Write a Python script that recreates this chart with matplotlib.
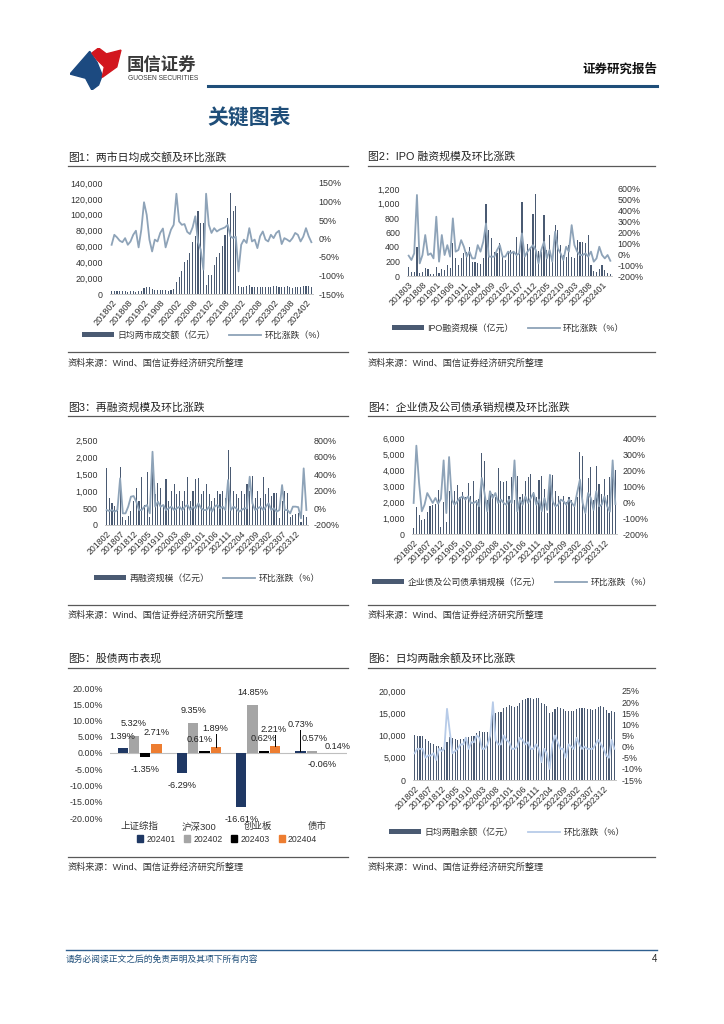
import numpy as np
import pandas as pd
import matplotlib
matplotlib.use('Agg')
import matplotlib.pyplot as plt
from matplotlib.lines import Line2D
from matplotlib.patches import Polygon, Patch

plt.rcParams['font.family'] = ['Liberation Sans', 'Noto Sans CJK SC']
plt.rcParams['axes.unicode_minus'] = False

# ---------------- data ----------------
months_a = [p.strftime('%Y%m') for p in pd.period_range('2018-02', '2024-04', freq='M')]  # 75
months_b = [p.strftime('%Y%m') for p in pd.period_range('2018-03', '2024-04', freq='M')]  # 74

# fig1: daily turnover (100m yuan) and MoM %
turnover = [4300, 3900, 4100, 4200, 3600, 3300, 3100, 3500, 3200, 3000, 3400, 3800,
            7500, 8800, 8200, 6000, 4800, 5200, 4600, 4800, 5000, 4300, 5600, 6800,
            15000, 22000, 29000, 40000, 43000, 52000, 66000, 73000, 105000, 89000, 89000, 11000,
            24000, 24000, 36000, 47000, 52000, 60000, 75000, 96000, 128000, 105000, 111000,
            9800, 9200, 8700, 9500, 10800, 9000, 8400, 8700, 9300, 8800, 8500, 8900,
            9200, 9800, 10000, 8500, 8300, 8800, 9500, 8700, 8000, 8300, 8200, 8700,
            9600, 10000, 9800, 9300]
turnover_chg = [-17, 10, 3, -6, -10, 1, -17, -8, 10, 21, -24, 24,
                98, 64, -3, -35, -3, -8, 15, 27, -24, 1, 24, 37,
                121, 46, 37, 39, 18, 12, 30, 60, -10, -30, -84, 121,
                37, 15, 28, 19, 24, 27, 30, 37, 6, 1, 5,
                -89, -17, -3, -12, 28, -8, -3, -26, 6, 19, -3, -8,
                10, 1, 15, 21, -15, 1, -3, -8, 1, 15, 10, -8,
                5, 28, 6, -10]

# fig2: IPO financing
ipo = [129, 50, 50, 405, 40, 50, 105, 100, 25, 25,
       129, 40, 100, 85, 150, 105, 450, 244, 150, 244,
       313, 336, 405, 198, 189, 175, 160, 250, 1000, 635,
       520, 336, 313, 450, 300, 221, 313, 359, 336, 543,
       310, 1020, 336, 437, 405, 860, 1130, 340, 336, 840,
       359, 566, 267, 700, 635, 428, 290, 267, 428, 267,
       250, 497, 474, 474, 450, 566, 150, 65, 60, 100,
       150, 85, 45, 25]
ipo_chg = [-13, -53, 8, 545, -84, -7, 177, -7, 8, -38,
           345, -68, 177, -7, 84, -22, 330, 24, 39, 130,
           69, -22, 24, -38, -38, 84, 24, 115, 283, -22,
           -22, -22, 39, 84, -22, -22, 24, 8, 24, -7,
           8, 192, -22, 24, 54, 84, 39, -84, 39, 115,
           -38, 39, -68, 207, 54, 8, -53, 69, 24, 268,
           84, 24, -7, -7, 8, -22, 24, -68, -38, 69,
           -7, -38, -7, -60]

# fig3: refinancing
refi = [1670, 800, 650, 560, 400, 1700, 250, 150, 270, 410, 700, 1100,
        700, 1420, 600, 1570, 250, 2150, 900, 1230, 1100, 600, 1350, 700,
        1000, 1200, 900, 1000, 700, 1000, 1400, 700, 1000, 1360, 1370, 900,
        1000, 1200, 900, 700, 800, 1000, 900, 1000, 800, 2220, 1700, 1000,
        900, 800, 1000, 900, 1200, 1000, 1450, 800, 1000, 800, 1400, 900,
        1100, 850, 950, 950, 200, 700, 1000, 950, 250, 300, 320, 350,
        100, 300, 230]
refi_chg = [-24, -35, -24, -43, -24, 349, -63, -63, 16, 133, 141, 74,
            -24, -24, 16, 35, -63, 662, 16, 74, 16, 35, -24, -4,
            16, -24, -4, 16, -24, 16, 35, -24, 16, -4, 55, -4,
            -24, -24, 16, -43, 16, 35, -4, 16, -24, 329, -24, 16,
            -4, -43, -24, -4, -4, 368, 55, -24, -4, 16, -24, 16,
            55, -24, -4, -43, -24, 270, -24, -24, -63, 16, 16, 10,
            -122, 466, -24]

# fig4: enterprise & corporate bond underwriting
bonds = [350, 1700, 1200, 850, 950, 1400, 1750, 1800, 1850, 2750, 450, 2000,
         750, 2700, 2300, 2700, 3050, 2300, 2600, 2300, 3200, 2400, 3300, 2100,
         2200, 5050, 4550, 2100, 2700, 2500, 2300, 4100, 3300, 3250, 3300, 2400,
         3550, 2100, 3600, 2300, 2500, 3300, 3550, 3750, 2600, 2300, 3400, 3650,
         2800, 1300, 3700, 3700, 2700, 2400, 2200, 2400, 2000, 2300, 2100, 1700,
         2300, 5150, 4850, 1500, 3500, 4200, 2100, 4250, 3100, 2500, 3450, 2450,
         3550, 4600, 4000]
bonds_chg = [-6, 352, 119, -58, -17, 56, 25, -6, 25, -10, 20, 260,
             -69, 281, 15, -17, 4, 25, 35, 15, 35, -6, -6, 4,
             -27, 150, 56, -58, 67, 25, 56, -6, 15, -6, -17, 15,
             -6, 260, -58, 15, -17, 35, -6, 25, 56, -17, 15, -58,
             25, -50, 170, 4, -27, -17, 15, 4, -17, 15, -6, -27,
             60, 140, -6, -69, 56, 25, -50, 67, -27, -17, 35, -27,
             -60, 260, -13]

# fig5: stock & bond market performance (%)
mkt_cats = ['上证综指', '沪深300', '创业板', '债市']
mkt_series = ['202401', '202402', '202403', '202404']
perf_202401 = [1.39, -6.29, -16.61, 0.73]
perf_202402 = [5.32, 9.35, 14.85, 0.57]
perf_202403 = [-1.35, 0.61, 0.62, -0.06]
perf_202404 = [2.71, 1.89, 2.21, 0.14]

# fig6: margin balance
margin = [10200, 10000, 9900, 9800, 9200, 8700, 8400, 8100, 7700, 7600, 7500,
          7400, 8500, 9700, 9400, 9200, 9100, 9200, 9300, 9700, 9600, 9800, 10000,
          10500, 10900, 10800, 10700, 10800, 11300, 14800, 15000, 15200, 15300, 16100, 16500,
          16800, 16700, 16500, 16600, 17300, 17900, 18100, 18500, 18400, 18300, 18500, 18400,
          17200, 17000, 16600, 15100, 15200, 15900, 16300, 16200, 16000, 15400, 15500, 15500,
          15400, 16000, 16200, 16100, 16100, 15900, 15900, 15800, 15900, 16500, 16700, 16500,
          15800, 15000, 15400, 15300]
margin_chg = [-3, -1, -1, -1, -5, -4, -4, -3, -6, -1, -2,
              -1, 17, 7, -3, -2, -1, 1, 1, 4, -1, 2, 2,
              5, 4, -1, -1, 1, 5, 20, 3, 1, 1, 5, 3,
              2, -1, -1, 0, 4, 3, 1, 2, -1, -1, 1, -1,
              -7, -1, -3, -10, 1, 5, 2, -1, -1, -5, 1, 0,
              -1, 4, 1, -1, 0, -1, -1, -1, 1, 3, 1, -1,
              -4, -5, 3, -1]

# ---------------- layout helpers ----------------
W, H = 724, 1024
fig = plt.figure(figsize=(W / 100, H / 100), dpi=100)

BAR = '#4a5a72'
LINE = '#8ea3b8'
LINE6 = '#b7cbe8'
TXT = '#333333'
RULE = '#595959'
SRC = '资料来源：Wind、国信证券经济研究所整理'


def px_ax(x0, y0, x1, y1):
    return fig.add_axes([x0 / W, 1 - y1 / H, (x1 - x0) / W, (y1 - y0) / H])


def ftext(x, y, s, **kw):
    fig.text(x / W, 1 - y / H, s, **kw)


def hline(x0, x1, y, color=RULE, lw=0.9):
    fig.add_artist(Line2D([x0 / W, x1 / W], [1 - y / H, 1 - y / H], color=color, lw=lw))


def panel_frame(x0, x1, ytitle, yline, ybottom, ysrc, title):
    ftext(x0, ytitle, title, fontsize=7.8, color='#222222', va='center')
    hline(x0, x1, yline)
    hline(x0, x1, ybottom)
    ftext(x0, ysrc, SRC, fontsize=6.6, color=TXT, va='center')


def thousands(v):
    return f'{v:,.0f}'


def combo(box, months, bars, pct, lmax, lstep, rlim, rstep, step, rot, bar_label, leg,
          line_color=LINE, xsize=6.3):
    ax = px_ax(*box)
    n = len(bars)
    xs = np.arange(n)
    ax.bar(xs, bars, width=0.42, color=BAR, label=bar_label, zorder=2)
    ax.set_xlim(-0.6, n - 0.4)
    ax.set_ylim(0, lmax)
    lt = np.arange(0, lmax + 1, lstep)
    ax.set_yticks(lt)
    ax.set_yticklabels([thousands(v) for v in lt])
    ax.set_xticks(xs[::step])
    ax.set_xticklabels(months[::step], rotation=rot, ha='right', rotation_mode='anchor')
    ax.tick_params(axis='y', length=0, pad=5, labelsize=6.4, labelcolor=TXT)
    ax.tick_params(axis='x', length=0, pad=3, labelsize=xsize, labelcolor=TXT)
    ax2 = ax.twinx()
    ax2.plot(xs, pct, color=line_color, lw=1.3, label='环比涨跌（%）', zorder=3)
    ax2.set_ylim(*rlim)
    rt = np.arange(rlim[0], rlim[1] + 1, rstep)
    ax2.set_yticks(rt)
    ax2.set_yticklabels([f'{v}%' for v in rt])
    ax2.tick_params(axis='y', length=0, pad=4, labelsize=6.4, labelcolor=TXT)
    for a in (ax, ax2):
        for s in ('top', 'left', 'right'):
            a.spines[s].set_visible(False)
        a.spines['bottom'].set_color('#c8c8c8')
        a.spines['bottom'].set_linewidth(0.7)
    h1, l1 = ax.get_legend_handles_labels()
    h2, l2 = ax2.get_legend_handles_labels()
    fig.legend(h1 + h2, l1 + l2, loc='center', bbox_to_anchor=(leg[0] / W, 1 - leg[1] / H),
               ncol=2, frameon=False, fontsize=6.4, handlelength=3.6, handleheight=0.55,
               columnspacing=1.6, handletextpad=0.4, labelcolor=TXT)
    return ax, ax2


# ---------------- header ----------------
logo = px_ax(70, 48, 122, 90)
logo.set_xlim(0, 1)
logo.set_ylim(0, 1)
logo.axis('off')
logo.add_patch(Polygon([(0.0, 0.38), (0.38, 0.92), (0.52, 0.66), (0.62, 0.35),
                        (0.55, 0.12), (0.42, 0.0), (0.3, 0.28)], closed=True, color='#1c4a80'))
logo.add_patch(Polygon([(0.42, 0.88), (0.55, 1.0), (0.7, 0.86), (0.98, 0.95),
                        (0.9, 0.55), (0.62, 0.3), (0.66, 0.55), (0.52, 0.72)], closed=True, color='#d2161e'))
ftext(127, 64, '国信证券', fontsize=12.5, color='#3a3a3a', va='center', fontweight='bold')
ftext(128, 79, 'GUOSEN SECURITIES', fontsize=4.8, color='#3a3a3a', va='center')
ftext(657, 70, '证券研究报告', fontsize=9, color='#111111', va='center', ha='right', fontweight='bold')
hline(208, 657, 86, color='#1f4e79', lw=2.2)
ftext(207, 118, '关键图表', fontsize=15, color='#1f4e79', va='center', fontweight='bold')

# ---------------- panel 1 ----------------
panel_frame(68, 348, 157, 166, 352, 363, '图1：两市日均成交额及环比涨跌')
combo((110, 183, 313, 294), months_a, turnover, turnover_chg, 140000, 20000, (-150, 150), 50,
      6, 50, '日均两市成交额（亿元）', (204, 335), xsize=6.6)

# ---------------- panel 2 ----------------
panel_frame(368, 655, 157, 166, 352, 363, '图2：IPO 融资规模及环比涨跌')
combo((407, 189, 612, 276), months_b, ipo, ipo_chg, 1200, 200, (-200, 600), 100,
      5, 45, 'IPO融资规模（亿元）', (508, 328))

# ---------------- panel 3 ----------------
panel_frame(68, 348, 408, 416, 605, 615, '图3：再融资规模及环比涨跌')
combo((105, 440, 308, 525), months_a, refi, refi_chg, 2500, 500, (-200, 800), 200,
      5, 45, '再融资规模（亿元）', (207, 578))

# ---------------- panel 4 ----------------
panel_frame(368, 655, 408, 416, 605, 615, '图4：企业债及公司债承销规模及环比涨跌')
combo((412, 438, 617, 534), months_a, bonds, bonds_chg, 6000, 1000, (-200, 400), 100,
      5, 45, '企业债及公司债承销规模（亿元）', (512, 582))

# ---------------- panel 5 ----------------
panel_frame(68, 348, 658, 668, 857, 867, '图5：股债两市表现')
ax5 = px_ax(110, 688, 347, 818)
perf = [perf_202401, perf_202402, perf_202403, perf_202404]
colors5 = ['#1f3864', '#a5a5a5', '#000000', '#ed7d31']
xc = np.arange(len(mkt_cats))
gap, bw = 0.19, 0.17
# label placement tweaks (series, category): (dx, dy above value)
lab_tweak = {(0, 3): (0.0, 8.0), (3, 1): (-0.01, 5.5), (3, 2): (-0.02, 4.9),
             (3, 3): (0.06, 1.9), (2, 1): (-0.075, 3.6), (1, 3): (0.05, 3.9),
             (2, 3): (-0.015, -3.45)}
handles5 = []
for k, vals in enumerate(perf):
    bx = xc + (k - 1.5) * gap
    ax5.bar(bx, vals, bw, color=colors5[k], zorder=2)
    handles5.append(Patch(color=colors5[k], label=mkt_series[k]))
    for j, v in enumerate(vals):
        dx, dy = lab_tweak.get((k, j), (0.0, 3.7 if v >= 0 else -3.7))
        ty = v + dy
        ax5.text(bx[j] + dx, ty, f'{v:.2f}%', ha='center', va='center', fontsize=6.6,
                 color='#222222', clip_on=False, zorder=4)
        if (k, j) in [(0, 3), (3, 1), (3, 2)]:
            ax5.plot([bx[j], bx[j]], [v, ty - 1.6], color='black', lw=0.7, zorder=3)
ax5.axhline(0, color='#bfbfbf', lw=0.8, zorder=1)
ax5.set_xlim(-0.5, 3.5)
ax5.set_ylim(-20, 20)
yt5 = np.arange(-20, 21, 5)
ax5.set_yticks(yt5)
ax5.set_yticklabels([f'{v:.2f}%' for v in yt5])
ax5.set_xticks(xc)
ax5.set_xticklabels(mkt_cats)
ax5.tick_params(axis='y', length=0, pad=5, labelsize=6.4, labelcolor=TXT)
ax5.tick_params(axis='x', length=0, pad=3, labelsize=6.8, labelcolor=TXT)
for s in ax5.spines.values():
    s.set_visible(False)
fig.legend(handles=handles5, loc='center', bbox_to_anchor=(227 / W, 1 - 839 / H), ncol=4,
           frameon=False, fontsize=6.2, handlelength=0.7, handleheight=0.7,
           columnspacing=1.0, handletextpad=0.4, labelcolor=TXT)

# ---------------- panel 6 ----------------
panel_frame(368, 655, 658, 668, 857, 867, '图6：日均两融余额及环比涨跌')
combo((413, 691, 616, 780), months_a, margin, margin_chg, 20000, 5000, (-15, 25), 5,
      5, 45, '日均两融余额（亿元）', (507, 832), line_color=LINE6)

# ---------------- footer ----------------
hline(66, 657, 950, color='#2e5f8f', lw=1.0)
ftext(66, 959, '请务必阅读正文之后的免责声明及其项下所有内容', fontsize=6.3, color='#1f4e79', va='center')
ftext(657, 959, '4', fontsize=7, color='#222222', va='center', ha='right')

fig.savefig('out.png', dpi=100)
